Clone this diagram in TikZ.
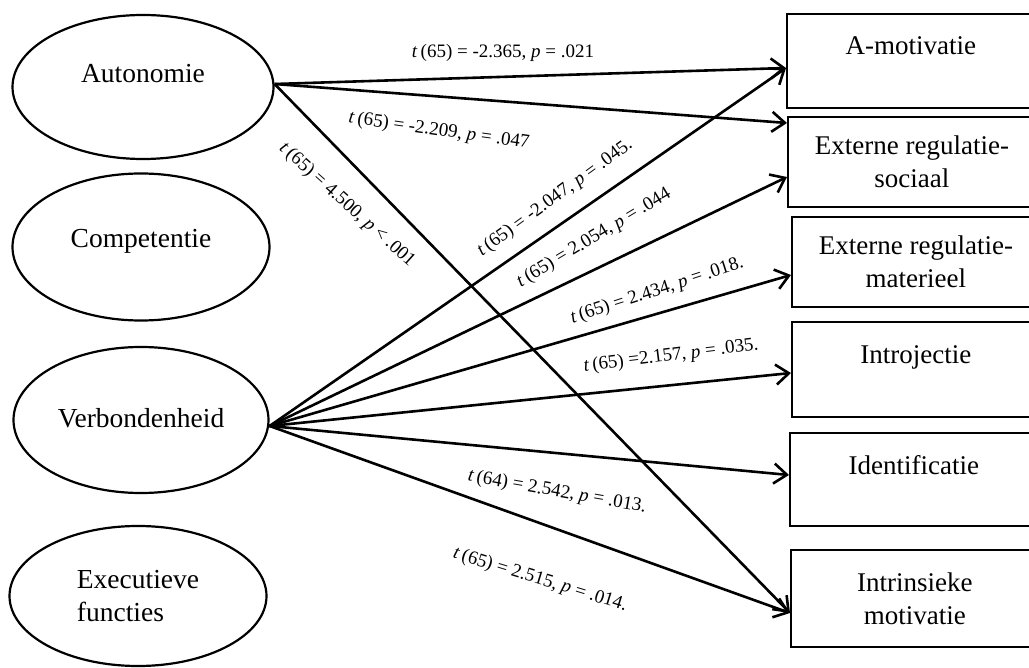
\documentclass[tikz,border=0pt]{standalone}
\usepackage{fontspec}
\setmainfont{Liberation Serif}
\usetikzlibrary{shapes.geometric,arrows.meta,calc}
\begin{document}
\begin{tikzpicture}[x=1pt,y=-1pt,
  ell/.style={draw,line width=2.2pt,ellipse,inner sep=0pt,font=\fontsize{27.5}{33}\selectfont,align=center},
  box/.style={draw,line width=1.8pt,rectangle,anchor=west,minimum width=248pt,inner sep=0pt,font=\fontsize{27}{33}\selectfont,align=center},
  conn/.style={line width=2.6pt,-{Straight Barb[length=13pt,width=20pt,line width=2.6pt]}},
  lab/.style={font=\fontsize{19}{22}\selectfont,inner sep=0pt}]
\useasboundingbox (0,0) rectangle (1029,668);
\clip (0,0) rectangle (1029,668);
\fill[white] (0,0) rectangle (1029,668);

% ellipses
\node[ell,minimum width=261pt,minimum height=144pt] (auto) at (143,87) {\raisebox{4pt}[0pt][0pt]{Autonomie}};
\node[ell,minimum width=257pt,minimum height=147pt] (comp) at (141,247) {\raisebox{-1pt}[0pt][0pt]{Competentie}};
\node[ell,minimum width=255pt,minimum height=146pt] (verb) at (141,420) {\raisebox{-8pt}[0pt][0pt]{Verbondenheid}};
\node[ell,minimum width=257pt,minimum height=140pt,align=left,xshift=-4pt] (exec) at (142,596) {Executieve\\functies};

% boxes
\node[box,minimum height=94pt] (amot) at (786,61) {\raisebox{6pt}[0pt][0pt]{A-motivatie}};
\node[box,minimum height=90pt] (extsoc) at (787,162) {Externe regulatie-\\sociaal};
\node[box,minimum height=90pt] (extmat) at (791,262) {Externe regulatie-\\materieel};
\node[box,minimum height=95pt] (intro) at (791,369.5) {\raisebox{6pt}[0pt][0pt]{Introjectie}};
\node[box,minimum height=93pt] (ident) at (789,479.5) {\raisebox{5pt}[0pt][0pt]{Identificatie}};
\node[box,minimum height=97pt] (intr) at (790,598.5) {Intrinsieke\\motivatie};

% connectors
\draw[conn] ([yshift=3pt]auto.east) -- ([yshift=-7pt]amot.west);
\draw[conn] ([yshift=3pt]auto.east) -- ([yshift=39pt]extsoc.west);
\draw[conn] ([yshift=3pt]auto.east) -- ([yshift=-14.5pt]intr.west);
\draw[conn] ([yshift=-6pt]verb.east) -- ([yshift=-7pt]amot.west);
\draw[conn] ([yshift=-6pt]verb.east) -- ([yshift=-15pt]extsoc.west);
\draw[conn] ([yshift=-6pt]verb.east) -- ([yshift=-13pt]extmat.west);
\draw[conn] ([yshift=-6pt]verb.east) -- ([yshift=-3.5pt]intro.west);
\draw[conn] ([yshift=-6pt]verb.east) -- ([yshift=4.5pt]ident.west);
\draw[conn] ([yshift=-6pt]verb.east) -- ([yshift=-14.5pt]intr.west);

% labels
\node[lab] (l1) at (503,53) {\textit{t}\,(65) = -2.365, \textit{p} = .021};
\node[lab,rotate=-8] (l2) at (439,131) {\textit{t}\,(65) = -2.209, \textit{p} = .047};
\node[lab,rotate=-42] (l3) at (347,205) {\textit{t}\,(65) = 4.500, \textit{p} < .001};
\node[lab,rotate=36] (l4) at (555,198) {\textit{t}\,(65) = -2.047, \textit{p} = .045.};
\node[lab,rotate=31] (l5) at (594,238) {\textit{t}\,(65) = 2.054, \textit{p} = .044};
\node[lab,rotate=18] (l6) at (657,291) {\textit{t}\,(65) = 2.434, \textit{p} = .018.};
\node[lab,rotate=7] (l7) at (671,356) {\textit{t}\,(65) =2.157, \textit{p} = .035.};
\node[lab,rotate=-10] (l8) at (557,492) {\textit{t}\,(64) = 2.542, \textit{p} = .013.};
\node[lab,rotate=-17] (l9) at (540,580) {\textit{t}\,(65) = 2.515, \textit{p} = .014.};
\end{tikzpicture}
\end{document}
